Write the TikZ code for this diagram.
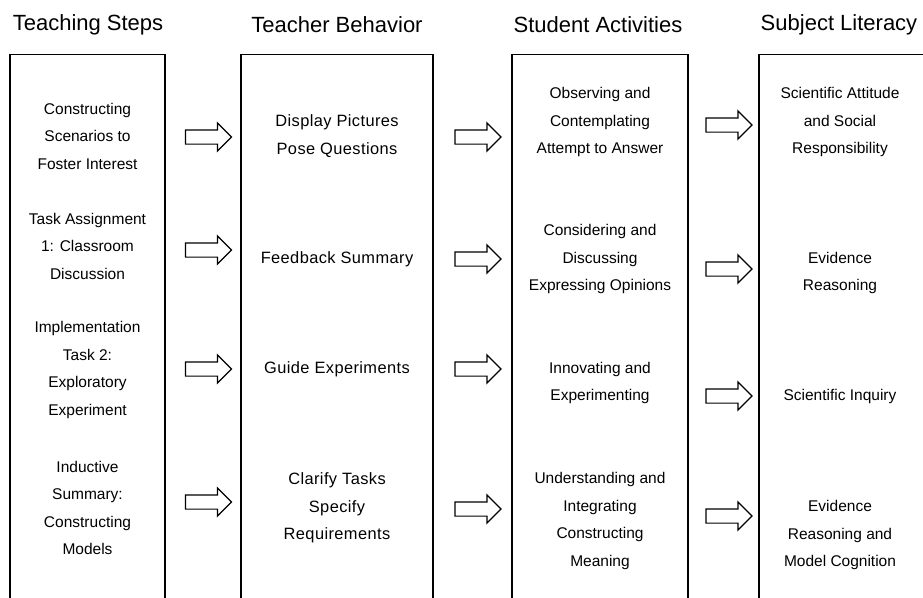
\documentclass[tikz,border=0pt]{standalone}
\usepackage{fontspec}
\setmainfont{Liberation Sans}
\newfontfamily\widesans[LetterSpace=2.5]{Liberation Sans}
\usetikzlibrary{shapes.arrows, positioning}
\tikzset{
  every picture/.style={line width=1.3pt},
  head/.style={font=\fontsize{22}{26}\selectfont, anchor=center},
  cell/.style={align=center, font=\fontsize{15.5}{27.5}\selectfont, inner sep=0pt},
  widecell/.style={cell, font=\widesans\fontsize{16.4}{27.5}\selectfont},
  fat/.style={single arrow, draw=black, line width=1.2pt, fill=white, inner xsep=0pt, inner ysep=6.5pt,
    single arrow head extend=7pt, minimum height=46pt, single arrow head indent=0pt},
}

\begin{document}
\begin{tikzpicture}[x=1pt, y=-1pt]
  \useasboundingbox (0,0) rectangle (923,597);
  % four columns, open at the bottom
  \foreach \l/\r in {10/165, 241/433, 512/688, 759/935}
    \draw (\l,605) -- (\l,54.5) -- (\r,54.5) -- (\r,605);
  % column titles
  \node[head] (hSteps) at (88,25) {Teaching Steps};
  \node[head] (hTeacher) at (337,25) {Teacher Behavior};
  \node[head] (hStudent) at (598,25) {Student Activities};
  \node[head] (hLiteracy) at (839,25) {Subject Literacy};
  % teaching steps
  \node[cell] (s1) at (87.5,136) {Constructing\\Scenarios to\\Foster Interest};
  \node[cell] (s2) at (87.5,246) {Task Assignment\\1: Classroom\\Discussion};
  \node[cell] (s3) at (87.5,370) {Implementation\\Task 2:\\Exploratory\\Experiment};
  \node[cell] (s4) at (87.5,508) {Inductive\\Summary:\\Constructing\\Models};
  % teacher behavior
  \node[widecell] (t1) at (337,136) {Display Pictures\\Pose Questions};
  \node[widecell] (t2) at (337,259) {Feedback Summary};
  \node[widecell] (t3) at (337,369) {Guide Experiments};
  \node[widecell] (t4) at (337,508) {Clarify Tasks\\Specify\\Requirements};
  % student activities
  \node[cell] (a1) at (600,122) {Observing and\\Contemplating\\Attempt to Answer};
  \node[cell] (a2) at (600,259) {Considering and\\Discussing\\Expressing Opinions};
  \node[cell] (a3) at (600,383) {Innovating and\\Experimenting};
  \node[cell] (a4) at (600,521) {Understanding and\\Integrating\\Constructing\\Meaning};
  % subject literacy
  \node[cell] (l1) at (840,122) {Scientific Attitude\\and Social\\Responsibility};
  \node[cell] (l2) at (840,273) {Evidence\\Reasoning};
  \node[cell] (l3) at (840,396) {Scientific Inquiry};
  \node[cell] (l4) at (840,535) {Evidence\\Reasoning and\\Model Cognition};
  % block arrows between the columns
  \foreach \y [count=\i] in {137, 250, 369, 502} \node[fat] (st\i) at (205,\y) {};
  \foreach \y [count=\i] in {137, 259, 369, 509} \node[fat] (ta\i) at (474.5,\y) {};
  \foreach \y [count=\i] in {125, 269, 396, 516} \node[fat] (al\i) at (725.5,\y) {};
\end{tikzpicture}
\end{document}
